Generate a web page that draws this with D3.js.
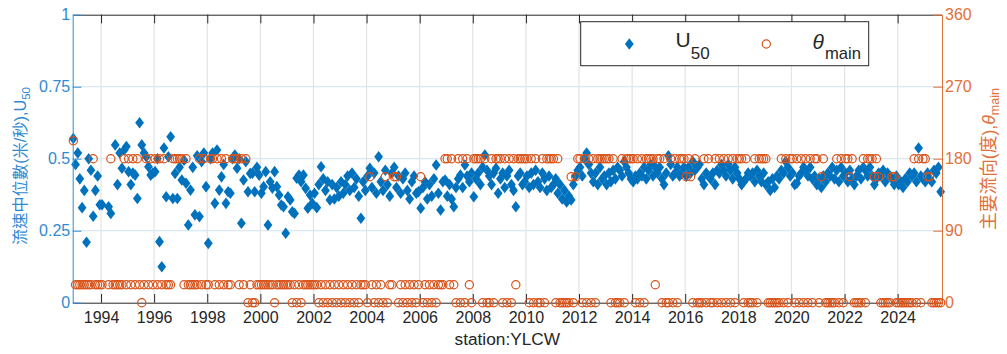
<!DOCTYPE html>
<html><head><meta charset="utf-8">
<script src="https://cdn.jsdelivr.net/npm/d3@7"></script>
<style>body{margin:0;background:#fff;} svg{display:block;}</style>
</head><body><svg id="c" width="1007" height="354"></svg>
<script>
// ---- data (monthly, first entry = Dec 1992) ----
const startYear = 1992, startMonth = 11;
const u50 = [
 0.57,
 0.48,0.52,0.43,0.33,0.39,0.21,0.50,0.46,0.30,0.39,0.44,0.34,
 0.34,null,null,0.333,0.31,null,0.548,0.41,0.52,0.467,0.53,0.542,
 0.455,0.41,0.45,0.443,0.362,0.625,0.548,0.52,0.507,0.472,0.443,0.45,
 0.455,0.50,0.212,0.125,0.537,0.368,0.507,0.576,0.362,0.449,0.362,0.47,
 0.426,0.495,0.415,0.27,0.391,0.47,0.305,0.51,0.299,0.49,0.52,0.403,
 0.206,0.50,0.52,0.345,0.53,0.391,0.437,0.48,0.345,0.385,0.38,0.50,
 0.513,0.467,0.50,0.276,0.426,0.49,0.385,0.449,0.45,0.385,0.47,0.443,
 0.38,0.403,0.455,0.27,0.42,0.398,0.455,0.403,0.374,0.339,0.333,0.241,
 0.368,0.357,0.316,0.31,0.432,0.443,0.42,0.443,0.397,0.328,0.374,0.345,
 0.38,0.33,0.41,0.472,0.43,0.39,0.42,0.357,0.41,0.36,0.40,0.37,
 0.42,0.38,0.41,0.44,0.39,0.45,0.40,0.43,0.37,0.293,0.42,0.39,
 0.44,0.467,0.40,0.45,0.38,0.507,0.42,0.39,0.46,0.41,0.37,0.45,
 0.47,0.40,0.44,0.38,0.43,0.45,0.39,0.36,0.42,0.44,0.38,0.385,
 0.328,0.40,0.42,0.36,0.41,0.37,0.43,0.478,0.38,0.322,0.42,0.426,
 0.37,0.41,0.36,0.333,0.40,0.43,0.443,0.40,0.478,0.44,0.42,0.45,
 0.368,0.43,0.45,0.41,0.47,0.513,0.46,0.44,0.41,0.45,0.467,0.38,
 0.43,0.45,0.40,0.44,0.46,0.41,0.39,0.333,0.44,0.45,0.41,0.42,
 0.44,0.40,0.45,0.41,0.46,0.42,0.40,0.45,0.43,0.39,0.44,0.40,
 0.41,0.43,0.38,0.41,0.36,0.39,0.35,0.37,0.357,0.41,0.44,0.46,
 0.47,0.44,0.50,0.52,0.48,0.45,0.42,0.45,0.41,0.47,0.43,0.44,
 0.41,0.45,0.42,0.46,0.43,0.47,0.46,0.44,0.49,0.47,0.45,0.43,
 0.42,0.44,0.43,0.45,0.44,0.47,0.43,0.46,0.48,0.44,0.47,0.45,
 0.47,0.43,0.41,0.45,0.51,0.48,0.44,0.45,0.47,0.44,0.45,0.47,
 0.44,0.47,0.45,0.49,0.46,0.47,0.48,0.43,0.41,0.45,0.44,0.43,
 0.45,0.41,0.46,0.45,0.48,0.46,0.44,0.48,0.46,0.43,0.47,0.45,
 0.43,0.41,0.42,0.43,0.45,0.44,0.45,0.42,0.46,0.44,0.42,0.45,
 0.41,0.42,0.39,0.43,0.40,0.44,0.43,0.46,0.45,0.49,0.47,0.44,
 0.45,0.41,0.415,0.44,0.45,0.47,0.46,0.44,0.47,0.43,0.44,0.41,
 0.43,0.40,0.44,0.42,0.45,0.44,0.47,0.43,0.46,0.42,0.47,0.44,
 0.45,0.42,0.46,0.43,0.41,0.44,0.46,0.43,0.47,0.46,0.44,0.47,
 0.44,0.41,0.43,0.45,0.44,0.46,0.42,0.45,0.44,0.43,0.41,0.44,
 0.41,0.42,0.40,0.43,0.42,0.45,0.44,0.45,0.42,0.537,0.44,0.43,
 0.42,0.45,0.43,0.42,0.46,0.45,0.47,0.385
];
const theta = [
 202.5,
 22.5,22.5,22.5,22.5,22.5,22.5,22.5,22.5,180,22.5,22.5,22.5,
 22.5,null,null,22.5,180,22.5,22.5,22.5,22.5,22.5,180,22.5,
 180,22.5,180,22.5,180,22.5,0,22.5,180,22.5,180,22.5,
 180,22.5,180,22.5,180,22.5,22.5,22.5,180,180,180,180,
 180,22.5,180,22.5,22.5,22.5,22.5,22.5,180,22.5,180,22.5,
 22.5,180,180,22.5,180,22.5,180,22.5,180,22.5,22.5,180,
 180,180,22.5,180,22.5,180,0,22.5,0,0,22.5,22.5,
 22.5,22.5,22.5,22.5,22.5,22.5,0,22.5,22.5,22.5,22.5,22.5,
 22.5,22.5,0,22.5,0,22.5,0,22.5,22.5,22.5,22.5,22.5,
 22.5,22.5,0,22.5,0,22.5,0,22.5,0,22.5,0,22.5,
 0,22.5,0,22.5,0,22.5,0,22.5,0,22.5,22.5,22.5,
 0,157.5,22.5,0,22.5,0,22.5,0,157.5,0,22.5,22.5,
 157.5,157.5,0,22.5,0,22.5,0,22.5,0,22.5,0,22.5,
 157.5,0,22.5,0,22.5,0,22.5,0,22.5,22.5,22.5,180,
 180,22.5,180,22.5,0,180,0,180,0,180,22.5,0,
 180,180,180,180,0,180,0,0,180,0,180,180,
 180,0,180,0,180,0,180,22.5,180,180,180,180,
 180,0,180,0,180,0,0,180,0,180,180,180,
 180,0,180,0,0,0,0,0,157.5,0,157.5,180,
 180,0,180,0,180,0,180,0,180,180,180,180,
 180,180,0,180,0,0,0,180,0,180,180,180,
 180,0,180,0,180,0,180,180,180,180,22.5,180,
 180,0,180,0,0,180,0,180,0,180,180,180,
 157.5,180,157.5,0,180,0,0,0,180,0,180,0,
 0,180,0,180,0,180,0,180,0,180,0,180,
 180,180,0,180,0,0,0,180,0,180,180,180,
 180,0,0,0,0,0,0,180,0,180,0,180,
 180,0,180,0,180,0,180,0,180,0,180,180,
 0,157.5,180,0,0,0,0,0,180,0,180,0,
 180,180,157.5,180,0,0,0,0,180,0,180,180,
 180,157.5,180,157.5,0,0,0,0,0,157.5,157.5,0,
 0,0,0,0,0,0,0,180,0,180,0,180,
 180,157.5,157.5,0,0,0,0,0
];
const xTickYears = [1994,1996,1998,2000,2002,2004,2006,2008,2010,2012,2014,2016,2018,2020,2022,2024];
const leftTicks = [0,0.25,0.5,0.75,1];
const leftTickLabels = ["0","0.25","0.5","0.75","1"];
const rightTicks = [0,90,180,270,360];
const xDomain = [new Date(1992,11,7), new Date(2025,8,2)];

// ---- styles ----
const cBlue = "#0072BD", cOrange = "#D95319";
const cLeftAxis = "#2f8ad2", cRightAxis = "#e2703a";
const axisDark = "#262626";
const font = "'Liberation Sans', Arial, 'Noto Sans CJK TC', sans-serif";

const svg = d3.select("#c");
const P = {l:72.7, r:942, t:14.7, b:302.7};
const x = d3.scaleTime().domain(xDomain).range([P.l,P.r]);
const yL = d3.scaleLinear().domain([0,1]).range([P.b,P.t]);
const yR = d3.scaleLinear().domain([0,360]).range([P.b,P.t]);
const tickDates = xTickYears.map(y=>new Date(y,0,1));
const dates = u50.map((_,i)=>new Date(startYear, startMonth+i, 15));
const TL = 8.7;

// grid
const g = svg.append("g");
g.selectAll(".vg").data(tickDates).enter().append("line")
 .attr("x1",d=>x(d)).attr("x2",d=>x(d)).attr("y1",P.t).attr("y2",P.b)
 .attr("stroke","#e1e3e6").attr("stroke-width",1.2);
g.selectAll(".hg").data(leftTicks.slice(1,-1)).enter().append("line")
 .attr("x1",P.l).attr("x2",P.r).attr("y1",d=>yL(d)).attr("y2",d=>yL(d))
 .attr("stroke","#dbe8f4").attr("stroke-width",1.2);

// blue diamonds
const diamond = "M0,-5.8L4.4,0L0,5.8L-4.4,0Z";
const blue = dates.map((d,i)=>({d, v:u50[i]})).filter(p=>p.v!=null);
svg.append("g").selectAll("path").data(blue).enter().append("path")
 .attr("d",diamond).attr("transform",p=>`translate(${x(p.d)},${yL(p.v)})`)
 .attr("fill",cBlue);

// axes
const axB = svg.append("g").attr("transform",`translate(0,${P.b})`)
 .call(d3.axisBottom(x).tickValues(tickDates).tickFormat(d3.timeFormat("%Y")).tickSize(-TL).tickSizeOuter(0).tickPadding(9.2));
axB.select(".domain").attr("stroke",axisDark);
axB.selectAll(".tick line").attr("stroke",axisDark);
axB.selectAll("text").attr("fill",axisDark).style("font-family",font).style("font-size","16px");

const axT = svg.append("g").attr("transform",`translate(0,${P.t})`)
 .call(d3.axisTop(x).tickValues(tickDates).tickFormat("").tickSize(-TL).tickSizeOuter(0));
axT.select(".domain").attr("stroke",axisDark);
axT.selectAll(".tick line").attr("stroke",axisDark);

const axL = svg.append("g").attr("transform",`translate(${P.l},0)`)
 .call(d3.axisLeft(yL).tickValues(leftTicks).tickFormat((d,i)=>leftTickLabels[i]).tickSize(-TL).tickSizeOuter(0).tickPadding(2.5));
axL.select(".domain").attr("stroke",cLeftAxis);
axL.selectAll(".tick line").attr("stroke",cLeftAxis);
axL.selectAll("text").attr("fill",cLeftAxis).style("font-family",font).style("font-size","16px");

const axR = svg.append("g").attr("transform",`translate(${P.r},0)`)
 .call(d3.axisRight(yR).tickValues(rightTicks).tickSize(-TL).tickSizeOuter(0).tickPadding(3));
axR.select(".domain").attr("stroke",cRightAxis);
axR.selectAll(".tick line").attr("stroke",cRightAxis);
axR.selectAll("text").attr("fill",cRightAxis).style("font-family",font).style("font-size","16px");

// orange circles
const orange = dates.map((d,i)=>({d, v:theta[i]})).filter(p=>p.v!=null);
svg.append("g").selectAll("circle").data(orange).enter().append("circle")
 .attr("cx",p=>x(p.d)).attr("cy",p=>yR(p.v)).attr("r",4.1)
 .attr("fill","none").attr("stroke",cOrange).attr("stroke-width",1.2);

// x label
svg.append("text").attr("x",(P.l+P.r)/2).attr("y",345.3).attr("text-anchor","middle")
 .style("font-family",font).style("font-size","17.3px").attr("fill",axisDark).text("station:YLCW");

// rotated y labels, fitted to the span they occupy in the reference
function yLabel(cx, y0, y1, color, parts){
  const t = svg.append("text").attr("text-anchor","middle")
    .style("font-family",font).style("font-size","17px").attr("fill",color);
  parts.forEach(p=>{
    const s = t.append("tspan").text(p.t);
    if(p.sub){ s.attr("dy",4.5).classed("sub",true).style("font-size","12px"); }
    if(p.it){ s.style("font-style","italic"); }
  });
  const len = t.node().getComputedTextLength();
  const k = Math.min(1.05, Math.max(0.85, (y1-y0)/len));
  t.style("font-size",(17*k)+"px");
  t.selectAll("tspan.sub").style("font-size",(12*k)+"px");
  t.attr("transform",`translate(${cx},${(y0+y1)/2}) rotate(-90)`);
}
yLabel(25.5, 87, 245, cLeftAxis, [{t:"流速中位數(米/秒),U"},{t:"50",sub:true}]);
yLabel(994.5, 88, 230, cRightAxis, [{t:"主要流向(度),"},{t:"θ",it:true},{t:"main",sub:true}]);

// legend
const lg = svg.append("g");
lg.append("rect").attr("x",580.7).attr("y",21.7).attr("width",288).attr("height",44)
 .attr("fill","#fff").attr("stroke",axisDark).attr("stroke-width",1);
lg.append("path").attr("d",diamond).attr("transform","translate(629.3,44)").attr("fill",cBlue);
const l1 = lg.append("text").attr("x",675.5).attr("y",46.7).style("font-family",font).style("font-size","21px").attr("fill",axisDark);
l1.append("tspan").text("U");
l1.append("tspan").attr("dy",12.6).style("font-size","17px").text("50");
lg.append("circle").attr("cx",766.3).attr("cy",44).attr("r",4.1).attr("fill","none").attr("stroke",cOrange).attr("stroke-width",1.2);
const l2 = lg.append("text").attr("x",812.5).attr("y",48.5).style("font-family",font).style("font-size","21px").attr("fill",axisDark);
l2.append("tspan").style("font-style","italic").text("θ");
l2.append("tspan").attr("dy",10.8).attr("dx",1).style("font-size","16.6px").text("main");
</script></body></html>
